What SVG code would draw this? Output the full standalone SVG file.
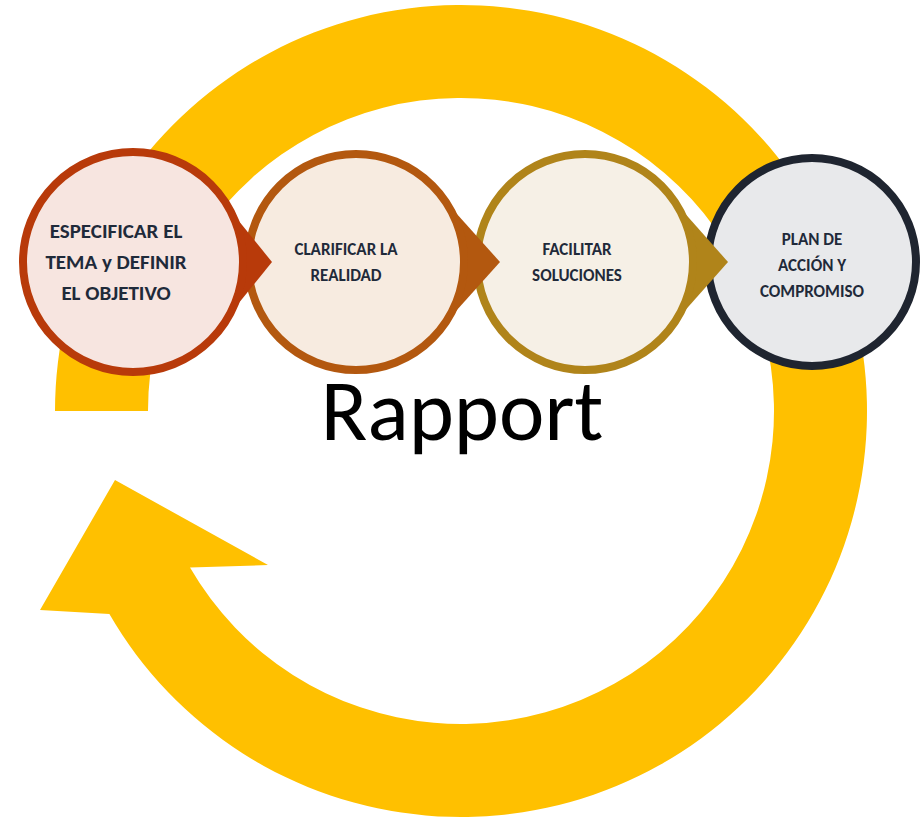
<svg xmlns="http://www.w3.org/2000/svg" width="922" height="821" viewBox="0 0 922 821">
<style>
.t{font-family:"Carlito","Liberation Sans",Arial,sans-serif;font-weight:bold;fill:#1F2A3A;text-anchor:middle}
</style>
<rect width="922" height="821" fill="#fff"/>
<g id="cycle">
<path d="M55,411 A406,406 0 1 1 109.4,614 L40,610 L115,480 L268,565 L190,567.5 A313,313 0 1 0 148,411 Z" fill="#FFC000"/>
</g>
<g id="n4">
<circle cx="812" cy="262" r="104" fill="#E8E9EB" stroke="#1F2530" stroke-width="8"/>
<text class="t" font-size="17"><tspan x="812" y="245">PLAN DE</tspan><tspan x="812" y="271">ACCIÓN Y</tspan><tspan x="812" y="297">COMPROMISO</tspan></text>
</g>
<g id="n3">
<polygon points="650,174 728,262 650,350" fill="#B0841A"/>
<circle cx="585" cy="262" r="108" fill="#F6F0E6" stroke="#B0841A" stroke-width="8"/>
<text class="t" font-size="17"><tspan x="577" y="255">FACILITAR</tspan><tspan x="577" y="281">SOLUCIONES</tspan></text>
</g>
<g id="n2">
<polygon points="421,174 500,262 421,350" fill="#B3580F"/>
<circle cx="356" cy="262" r="108" fill="#F7EBE0" stroke="#B3580F" stroke-width="8"/>
<text class="t" font-size="17"><tspan x="346" y="255">CLARIFICAR  LA</tspan><tspan x="346" y="281">REALIDAD</tspan></text>
</g>
<g id="n1">
<polygon points="196,168 272,262 196,356" fill="#B83A0A"/>
<circle cx="133" cy="262" r="110" fill="#F7E5E0" stroke="#B83A0A" stroke-width="8"/>
<text class="t" font-size="21"><tspan x="116" y="238">ESPECIFICAR EL</tspan><tspan x="116" y="269">TEMA y DEFINIR</tspan><tspan x="116" y="300">EL OBJETIVO</tspan></text>
</g>
<g id="connectors"></g>
<text x="462" y="440" font-family="Carlito,'Liberation Sans',sans-serif" font-size="86" fill="#000" text-anchor="middle">Rapport</text>
</svg>
